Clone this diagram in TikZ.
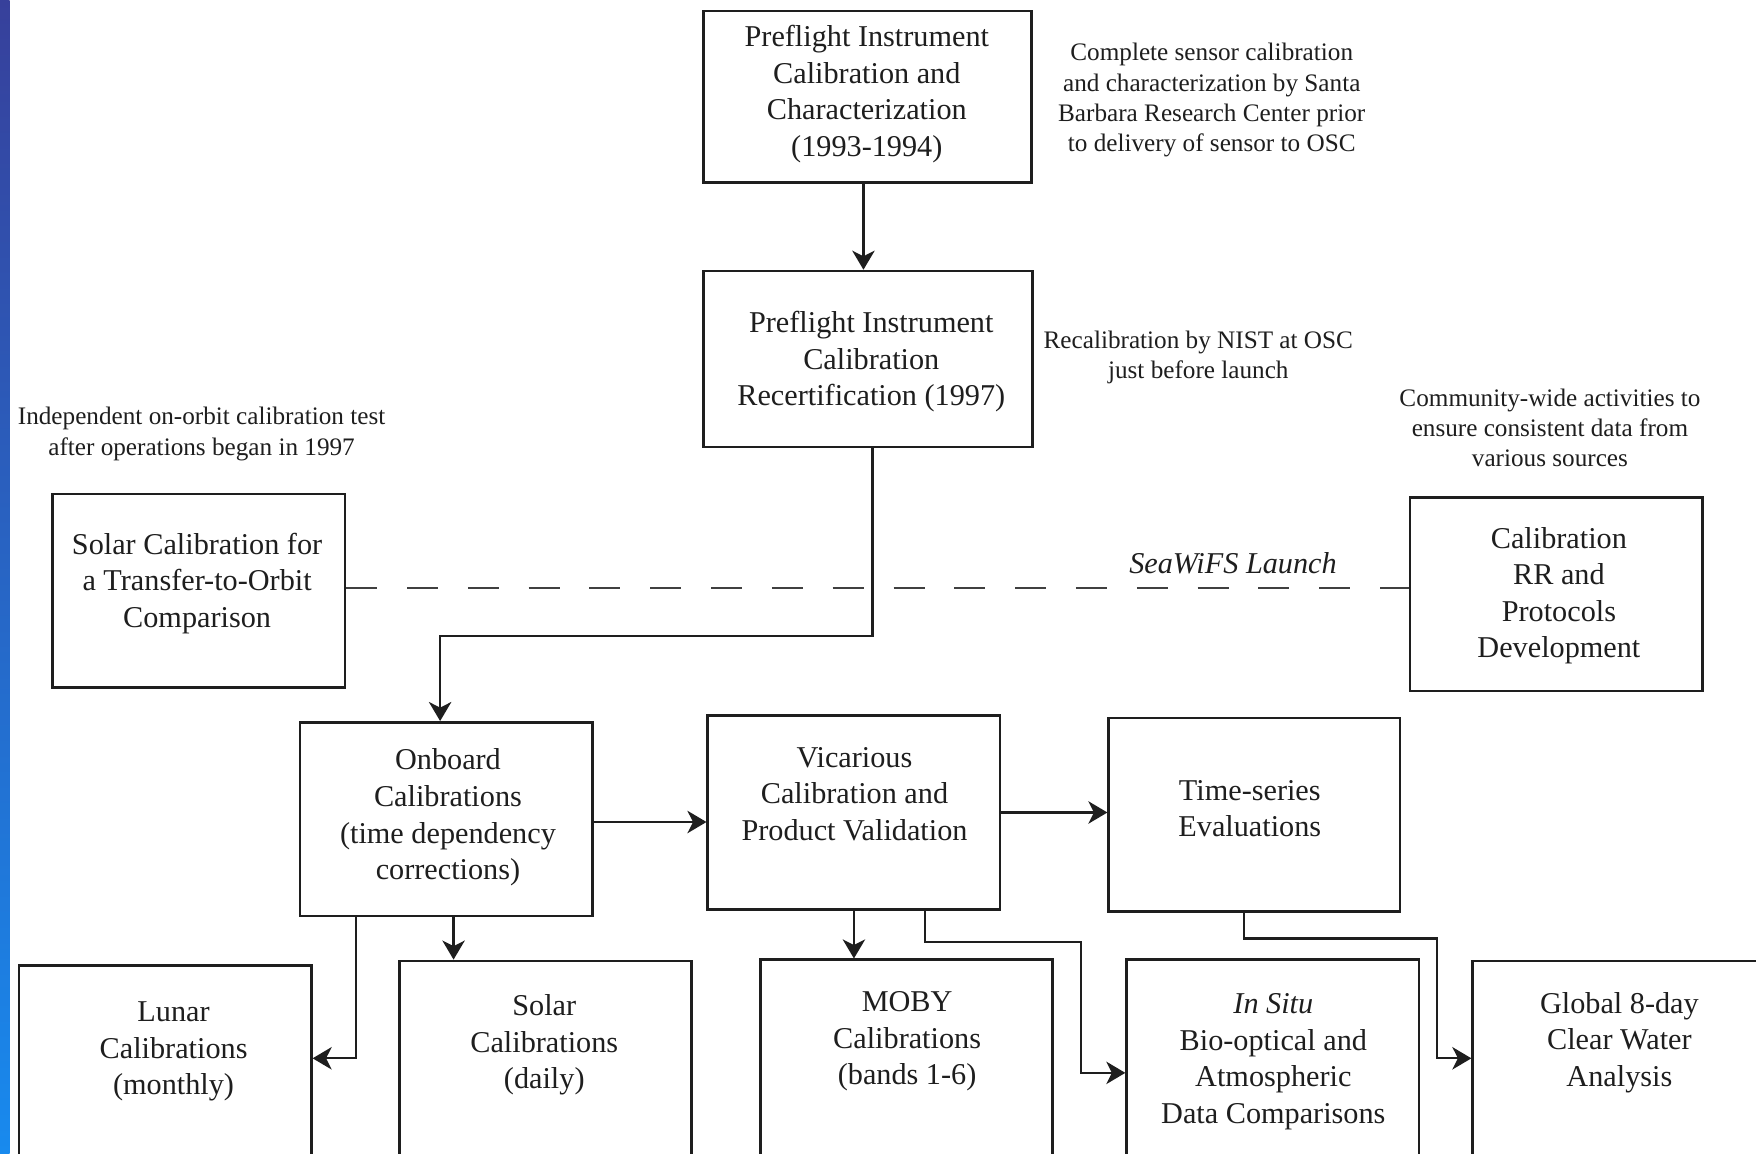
\documentclass[tikz,border=0pt]{standalone}
\usepackage{fontspec}
\setmainfont{Liberation Serif}
\usetikzlibrary{arrows.meta}
\definecolor{stripTop}{RGB}{55,64,155}
\definecolor{stripBot}{RGB}{24,138,238}
\definecolor{ink}{RGB}{30,30,30}
\tikzset{
  box/.style={draw=ink, line width=2.3pt, minimum width=261pt, minimum height=173pt, inner sep=0pt},
  boxtxt/.style={font=\fontsize{27}{32.7}\selectfont, align=center, inner sep=0pt, text=ink},
  note/.style={font=\fontsize{22.5}{27}\selectfont, align=center, inner sep=0pt, text=ink},
  arr/.style={line width=2.1pt, draw=ink, -{Stealth[length=17pt,width=20pt,inset=5pt]}},
  launch/.style={line width=2.2pt, draw=ink!85, dash pattern=on 27.7pt off 26.6pt},
}
\begin{document}
\begin{tikzpicture}[x=1pt,y=-1pt]
\useasboundingbox (0,0) rectangle (1568,1030);
\clip (0,0) rectangle (1568,1030);
\fill[white] (0,0) rectangle (1568,1030);
\shade[top color=stripTop, bottom color=stripBot] (0,0) rectangle (8.5,1030);

% boxes
\node[box, minimum width=293pt, minimum height=153pt] (b1) at (774.5,86.5) {};
\node[boxtxt] (b1t) at (774,84) {Preflight Instrument\\Calibration and\\Characterization\\(1993-1994)};
\node[box, minimum width=294pt, minimum height=157pt] (b2) at (775,320.5) {};
\node[boxtxt] (b2t) at (778,323) {Preflight Instrument\\Calibration\\Recertification (1997)};
\node[box] (b3) at (177.5,527.5) {};
\node[boxtxt] (b3t) at (176,521) {Solar Calibration for\\a Transfer-to-Orbit\\Comparison};
\node[box] (b4) at (1389.5,530.5) {};
\node[boxtxt] (b4t) at (1392,532) {Calibration\\RR and\\Protocols\\Development};
\node[box] (b5) at (398.5,731.5) {};
\node[boxtxt] (b5t) at (400,730) {Onboard\\Calibrations\\(time dependency\\corrections)};
\node[box] (b6) at (762.5,725.5) {};
\node[boxtxt] (b6t) at (763,709) {Vicarious\\Calibration and\\Product Validation};
\node[box, minimum width=260pt] (b7) at (1120,727.5) {};
\node[boxtxt] (b7t) at (1116,722) {Time-series\\Evaluations};
\node[box, minimum height=178pt] (b8) at (147.5,951) {};
\node[boxtxt] (b8t) at (155,939) {Lunar\\Calibrations\\(monthly)};
\node[box, minimum height=178pt] (b9) at (487,947) {};
\node[boxtxt] (b9t) at (486,933) {Solar\\Calibrations\\(daily)};
\node[box, minimum height=178pt] (b10) at (809.5,946) {};
\node[boxtxt] (b10t) at (810,930) {MOBY\\Calibrations\\(bands 1-6)};
\node[box, minimum height=178pt] (b11) at (1136.5,946) {};
\node[boxtxt] (b11t) at (1137,948) {\textit{In Situ}\\Bio-optical and\\Atmospheric\\Data Comparisons};
\node[box, minimum height=178pt] (b12) at (1445.5,947) {};
\node[boxtxt] (b12t) at (1446,931) {Global 8-day\\Clear Water\\Analysis};

% notes
\node[note] (n1) at (1082,89.5) {Complete sensor calibration\\and characterization by Santa\\Barbara Research Center prior\\to delivery of sensor to OSC};
\node[note] (n2) at (1070,319.5) {Recalibration by NIST at OSC\\just before launch};
\node[note] (n3) at (1384,382) {Community-wide activities to\\ensure consistent data from\\various sources};
\node[note] (n4) at (180,387.5) {Independent on-orbit calibration test\\after operations began in 1997};
\node[boxtxt] (lt) at (1101,503) {\textit{SeaWiFS Launch}};

% launch line
\draw[launch] ([yshift=2.5]b3.east) -- ([yshift=5.5]b4.west);

% connectors
\draw[arr] ([xshift=-3.5]b1.south) -- ([xshift=-4]b2.north);
\draw[arr] ([xshift=4]b2.south) -- ++(0,168) -| ([xshift=-5.5]b5.north);
\draw[arr] ([yshift=-2.5]b5.east) -- ([yshift=-8.5]b6.west);
\draw[arr] (b6.east) -- (b6.east -| b7.west);
\draw[arr] ([xshift=-80.5]b5.south) |- ([yshift=6]b8.east);
\draw[arr] ([xshift=6.5]b5.south) -- ([xshift=6.5]b5.south |- b9.north);
\draw[arr] (b6.south) -- (b6.south |- b10.north);
\draw[arr] ([xshift=63.5]b6.south) -- ++(0,28) -- ++(139,0) |- ([yshift=-12]b11.west);
\draw[arr] ([xshift=-9]b7.south) -- ++(0,23) -- ++(172,0) |- ([yshift=2]b12.west);
\end{tikzpicture}
\end{document}
